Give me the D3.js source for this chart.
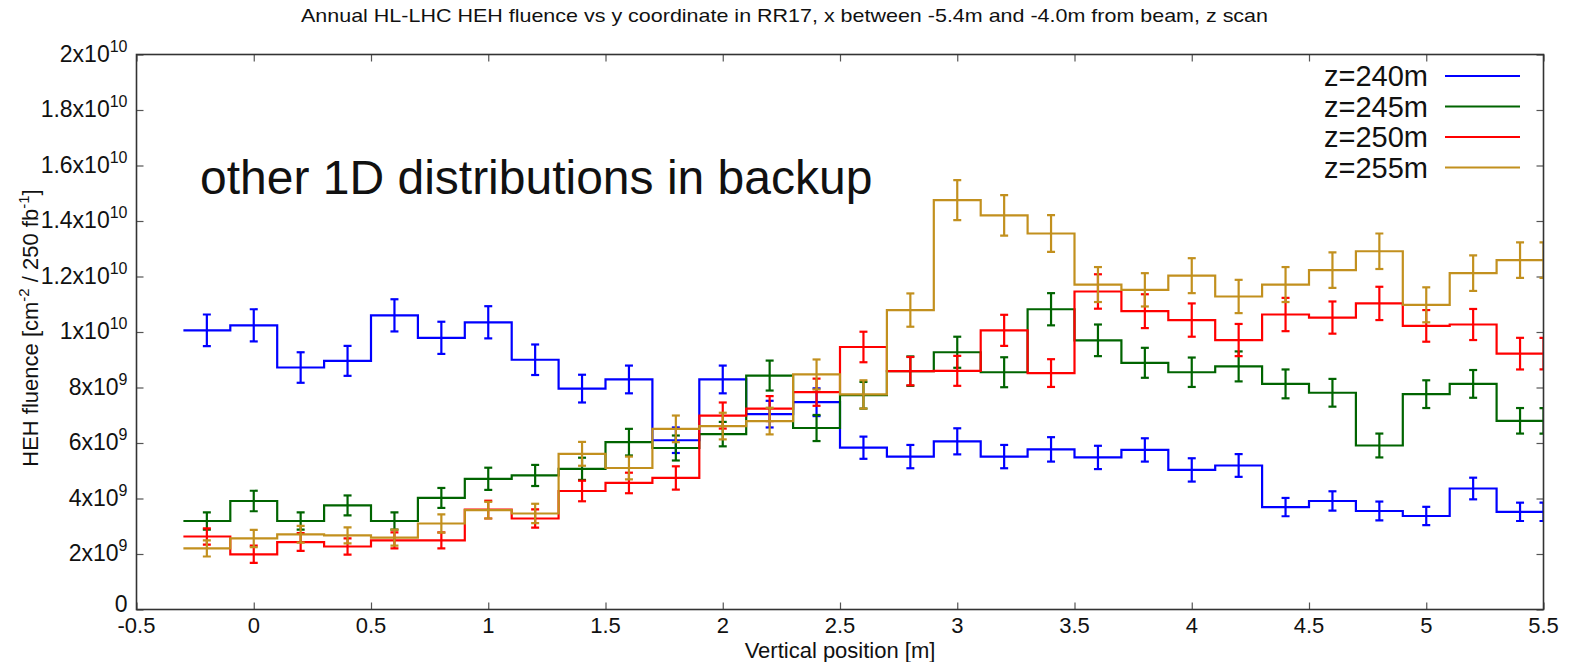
<!DOCTYPE html>
<html>
<head>
<meta charset="utf-8">
<script src="https://cdn.jsdelivr.net/npm/d3@7"></script>
<style>
  html, body { margin: 0; padding: 0; background: #fff; }
  svg { display: block; }
  text { font-family: "Liberation Sans", Arial, Helvetica, sans-serif; fill: #111; }
</style>
</head>
<body>
<svg id="chart" width="1569" height="662"></svg>
<script>
// Bin centres along the vertical position (m); every bin is 0.2 m wide
const binCenters = [-0.2, 0, 0.2, 0.4, 0.6, 0.8, 1.0, 1.2, 1.4, 1.6, 1.8, 2.0, 2.2, 2.4,
  2.6, 2.8, 3.0, 3.2, 3.4, 3.6, 3.8, 4.0, 4.2, 4.4, 4.6, 4.8, 5.0, 5.2, 5.4];
const binWidth = 0.2;

// HEH fluence per bin, in units of 1e9 cm^-2 / 250 fb^-1, and the statistical error
const z240 = [10.06, 10.24, 8.72, 8.96, 10.6, 9.79, 10.35, 9.0, 7.96, 8.29, 6.10, 8.29, 7.04, 7.47,
  5.83, 5.51, 6.06, 5.51, 5.77, 5.48, 5.75, 5.03, 5.19, 3.69, 3.91, 3.55, 3.37, 4.36, 3.52];
const z240err = [0.57, 0.58, 0.55, 0.54, 0.58, 0.58, 0.58, 0.55, 0.50, 0.50, 0.46, 0.50, 0.48, 0.50,
  0.40, 0.42, 0.47, 0.42, 0.44, 0.42, 0.42, 0.42, 0.41, 0.33, 0.35, 0.34, 0.33, 0.39, 0.33];

const z245 = [3.19, 3.91, 3.19, 3.75, 3.19, 4.02, 4.71, 4.83, 5.07, 6.03, 5.82, 6.32, 8.43, 6.54,
  7.72, 8.59, 9.27, 8.55, 10.82, 9.70, 8.89, 8.55, 8.76, 8.13, 7.81, 5.91, 7.76, 8.13, 6.80];
const z245err = [0.31, 0.37, 0.31, 0.36, 0.31, 0.36, 0.40, 0.38, 0.40, 0.48, 0.45, 0.44, 0.54, 0.47,
  0.48, 0.53, 0.56, 0.54, 0.58, 0.57, 0.54, 0.53, 0.54, 0.52, 0.50, 0.43, 0.50, 0.50, 0.46];

const z250 = [2.63, 1.99, 2.43, 2.27, 2.49, 2.49, 3.60, 3.28, 4.27, 4.56, 4.74, 6.99, 7.24, 7.83,
  9.46, 8.59, 8.60, 10.06, 8.52, 11.46, 10.75, 10.43, 9.71, 10.63, 10.52, 11.03, 10.22, 10.27, 9.22];
const z250err = [0.29, 0.31, 0.32, 0.29, 0.29, 0.29, 0.32, 0.33, 0.37, 0.37, 0.42, 0.47, 0.45, 0.49,
  0.55, 0.51, 0.54, 0.56, 0.50, 0.62, 0.61, 0.60, 0.58, 0.60, 0.58, 0.60, 0.57, 0.56, 0.57];

const z255 = [2.20, 2.56, 2.71, 2.67, 2.59, 3.10, 3.58, 3.46, 5.61, 5.10, 6.51, 6.61, 6.79, 8.47,
  7.75, 10.79, 14.75, 14.20, 13.55, 11.71, 11.52, 12.03, 11.28, 11.71, 12.23, 12.91, 10.98, 12.12, 12.59];
const z255err = [0.29, 0.31, 0.30, 0.29, 0.29, 0.33, 0.30, 0.35, 0.43, 0.41, 0.48, 0.48, 0.48, 0.54,
  0.51, 0.60, 0.72, 0.73, 0.66, 0.63, 0.60, 0.63, 0.60, 0.63, 0.64, 0.64, 0.63, 0.64, 0.64];

const seriesNames = ["z=240m", "z=245m", "z=250m", "z=255m"];
const seriesColors = ["#0000ff", "#006400", "#ff0000", "#c2901e"];
const seriesValues = [z240, z245, z250, z255];
const seriesErrors = [z240err, z245err, z250err, z255err];
const valueUnit = 1e9;

// Axis ticks
const xTicks = [-0.5, 0, 0.5, 1, 1.5, 2, 2.5, 3, 3.5, 4, 4.5, 5, 5.5];
const xTickLabels = ["-0.5", "0", "0.5", "1", "1.5", "2", "2.5", "3", "3.5", "4", "4.5", "5", "5.5"];
const yTicks = [0, 2e9, 4e9, 6e9, 8e9, 1e10, 1.2e10, 1.4e10, 1.6e10, 1.8e10, 2e10];
const yTickMantissa = ["0", "2", "4", "6", "8", "1", "1.2", "1.4", "1.6", "1.8", "2"];
const yTickExponent = ["", "9", "9", "9", "9", "10", "10", "10", "10", "10", "10"];

const titleText = "Annual HL-LHC HEH fluence vs y coordinate in RR17, x between -5.4m and -4.0m from beam, z scan";
const noteText = "other 1D distributions in backup";

// ---- layout ----
const W = 1569, H = 662;
const plot = { left: 136.5, right: 1543.5, top: 54.5, bottom: 609.5 };

const svg = d3.select("#chart");
const x = d3.scaleLinear().domain([-0.5, 5.5]).range([plot.left, plot.right]);
const y = d3.scaleLinear().domain([0, 2e10]).range([plot.bottom, plot.top]);

svg.append("defs").append("clipPath").attr("id", "plotClip")
  .append("rect")
  .attr("x", plot.left).attr("y", plot.top)
  .attr("width", plot.right - plot.left).attr("height", plot.bottom - plot.top);

// ---- axes: ticks point inwards and are mirrored on the opposite side ----
const tickLen = 7;
function styleAxis(g) {
  g.select(".domain").remove();
  g.selectAll(".tick line").attr("stroke", "#555").attr("stroke-width", 1.2);
}
svg.append("g").attr("transform", `translate(0,${plot.bottom})`)
  .call(d3.axisBottom(x).tickValues(xTicks).tickSizeInner(-tickLen).tickSizeOuter(0).tickFormat(""))
  .call(styleAxis);
svg.append("g").attr("transform", `translate(0,${plot.top})`)
  .call(d3.axisTop(x).tickValues(xTicks).tickSizeInner(-tickLen).tickSizeOuter(0).tickFormat(""))
  .call(styleAxis);
svg.append("g").attr("transform", `translate(${plot.left},0)`)
  .call(d3.axisLeft(y).tickValues(yTicks).tickSizeInner(-tickLen).tickSizeOuter(0).tickFormat(""))
  .call(styleAxis);
svg.append("g").attr("transform", `translate(${plot.right},0)`)
  .call(d3.axisRight(y).tickValues(yTicks).tickSizeInner(-tickLen).tickSizeOuter(0).tickFormat(""))
  .call(styleAxis);

// x tick labels
svg.append("g").selectAll("text").data(xTicks).join("text")
  .attr("x", d => x(d)).attr("y", plot.bottom + 23)
  .attr("text-anchor", "middle")
  .attr("font-size", 22)
  .attr("fill", "#222")
  .text((d, i) => xTickLabels[i]);

// y tick labels with powers of ten
const yLab = svg.append("g").selectAll("text").data(yTicks).join("text")
  .attr("x", plot.left - 9).attr("y", d => y(d) + (d === 0 ? 2 : 7))
  .attr("text-anchor", "end")
  .attr("font-size", 23)
  .attr("fill", "#222");
yLab.each(function (d, i) {
  const t = d3.select(this);
  if (yTickExponent[i] === "") { t.text(yTickMantissa[i]); return; }
  t.append("tspan").text(yTickMantissa[i] + "x10");
  t.append("tspan").attr("font-size", 16).attr("dy", -10).text(yTickExponent[i]);
});

// axis titles
svg.append("text")
  .attr("x", (plot.left + plot.right) / 2).attr("y", 658)
  .attr("text-anchor", "middle").attr("font-size", 22).attr("fill", "#222")
  .text("Vertical position [m]");

const yTitle = svg.append("text")
  .attr("transform", `translate(38,${(plot.top + plot.bottom) / 2 - 4}) rotate(-90)`)
  .attr("text-anchor", "middle").attr("font-size", 22).attr("fill", "#222");
yTitle.append("tspan").text("HEH fluence [cm");
yTitle.append("tspan").attr("font-size", 15).attr("dy", -9).text("-2");
yTitle.append("tspan").attr("dy", 9).text(" / 250 fb");
yTitle.append("tspan").attr("font-size", 15).attr("dy", -9).text("-1");
yTitle.append("tspan").attr("dy", 9).text("]");

// chart title
svg.append("text")
  .attr("x", W / 2).attr("y", 22)
  .attr("text-anchor", "middle").attr("font-size", 19)
  .attr("textLength", 967).attr("lengthAdjust", "spacingAndGlyphs")
  .attr("fill", "#222")
  .text(titleText);

// ---- histogram steps and error bars ----
const stepLine = d3.line().x(d => x(d[0])).y(d => y(d[1])).curve(d3.curveStepAfter);
const plotArea = svg.append("g").attr("clip-path", "url(#plotClip)");
const capHalf = 4;

seriesValues.forEach((vals, s) => {
  const color = seriesColors[s];
  const errs = seriesErrors[s];
  const pts = binCenters.map((c, i) => [c - binWidth / 2, vals[i] * valueUnit]);
  pts.push([binCenters[binCenters.length - 1] + binWidth / 2, vals[vals.length - 1] * valueUnit]);

  const g = plotArea.append("g").attr("stroke", color).attr("fill", "none").attr("stroke-width", 2.2);
  g.append("path").attr("d", stepLine(pts));

  // error bars at each bin centre, plus the closing one drawn on the right edge of the last bin
  const bars = binCenters.map((c, i) => ({ cx: c, v: vals[i], e: errs[i] }));
  const last = bars[bars.length - 1];
  bars.push({ cx: last.cx + binWidth / 2, v: last.v, e: last.e });

  const eb = g.selectAll("g.eb").data(bars).join("g").attr("class", "eb");
  eb.append("line")
    .attr("x1", d => x(d.cx)).attr("x2", d => x(d.cx))
    .attr("y1", d => y((d.v + d.e) * valueUnit)).attr("y2", d => y((d.v - d.e) * valueUnit));
  eb.append("line")
    .attr("x1", d => x(d.cx) - capHalf).attr("x2", d => x(d.cx) + capHalf)
    .attr("y1", d => y((d.v + d.e) * valueUnit)).attr("y2", d => y((d.v + d.e) * valueUnit));
  eb.append("line")
    .attr("x1", d => x(d.cx) - capHalf).attr("x2", d => x(d.cx) + capHalf)
    .attr("y1", d => y((d.v - d.e) * valueUnit)).attr("y2", d => y((d.v - d.e) * valueUnit));
});

// plot frame
svg.append("rect")
  .attr("x", plot.left).attr("y", plot.top)
  .attr("width", plot.right - plot.left).attr("height", plot.bottom - plot.top)
  .attr("fill", "none").attr("stroke", "#333").attr("stroke-width", 1.6);

// ---- legend ----
const legend = svg.append("g");
const legendRowY = [76, 106.5, 137, 167.5];
seriesNames.forEach((name, i) => {
  legend.append("text")
    .attr("x", 1428).attr("y", legendRowY[i] + 10)
    .attr("text-anchor", "end").attr("font-size", 29).attr("fill", "#222")
    .text(name);
  legend.append("line")
    .attr("x1", 1445).attr("x2", 1520)
    .attr("y1", legendRowY[i]).attr("y2", legendRowY[i])
    .attr("stroke", seriesColors[i]).attr("stroke-width", 2.2);
});

// annotation
svg.append("text")
  .attr("x", 200).attr("y", 194)
  .attr("font-size", 48).attr("fill", "#000")
  .text(noteText);
</script>
</body>
</html>
